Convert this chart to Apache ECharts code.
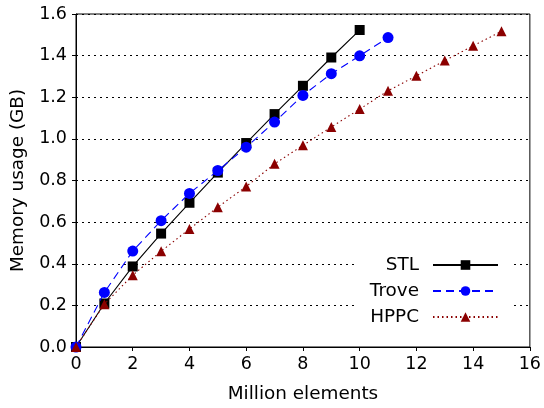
<!DOCTYPE html>
<html>
<head>
<meta charset="utf-8">
<script src="https://cdn.jsdelivr.net/npm/echarts@6/dist/echarts.min.js"></script>
<style>
  html, body { margin: 0; padding: 0; background: #fff; }
  #chart { width: 544px; height: 408px; }
</style>
</head>
<body>
<div id="chart"></div>
<script>
// Memory usage (GB) per container, measured at each million elements inserted
var stlX = [0, 1, 2, 3, 4, 5, 6, 7, 8, 9, 10];
var stlY = [0, 0.209, 0.387, 0.545, 0.693, 0.838, 0.980, 1.119, 1.255, 1.391, 1.523];

var troveX = [0, 1, 2, 3, 4, 5, 6, 7, 8, 9, 10, 11];
var troveY = [0, 0.262, 0.461, 0.607, 0.738, 0.848, 0.960, 1.081, 1.209, 1.313, 1.399, 1.487];

var hppcX = [0, 1, 2, 3, 4, 5, 6, 7, 8, 9, 10, 11, 12, 13, 14, 15];
var hppcY = [0, 0.206, 0.345, 0.460, 0.567, 0.672, 0.771, 0.880, 0.969, 1.057, 1.143, 1.231, 1.303, 1.376, 1.447, 1.517];

var FONT = 'DejaVu Sans';
var TICK_SIZE = 17.5;
var NAME_SIZE = 18.4;

function pairs(xs, ys) {
  return xs.map(function (x, i) { return [x, ys[i]]; });
}

var chart = echarts.init(document.getElementById('chart'), null, { renderer: 'canvas' });

chart.setOption({
  animation: false,
  backgroundColor: '#fff',
  textStyle: { fontFamily: FONT },
  grid: {
    left: 76, right: 12, top: 14, bottom: 60,
    show: true, borderColor: '#000', borderWidth: 1, backgroundColor: 'transparent'
  },
  xAxis: {
    type: 'value',
    min: 0, max: 16, interval: 2,
    name: 'Million elements',
    nameLocation: 'middle',
    nameGap: 38,
    nameTextStyle: { fontFamily: FONT, fontSize: NAME_SIZE, color: '#000' },
    axisLine: { show: true, lineStyle: { color: '#000', width: 1 } },
    axisTick: { show: true, inside: false, length: 4, lineStyle: { color: '#000' } },
    axisLabel: { fontFamily: FONT, fontSize: TICK_SIZE, color: '#000', margin: 8 },
    splitLine: { show: false }
  },
  yAxis: {
    type: 'value',
    min: 0, max: 1.6, interval: 0.2,
    name: 'Memory usage (GB)',
    nameLocation: 'middle',
    nameGap: 49,
    nameRotate: 90,
    nameTextStyle: { fontFamily: FONT, fontSize: NAME_SIZE, color: '#000' },
    axisLine: { show: true, lineStyle: { color: '#000', width: 1 } },
    axisTick: { show: true, inside: false, length: 4, lineStyle: { color: '#000' } },
    axisLabel: {
      fontFamily: FONT, fontSize: TICK_SIZE, color: '#000', margin: 9,
      formatter: function (v) { return v.toFixed(1); }
    },
    splitLine: { show: true, lineStyle: { color: '#000', width: 1, type: [2, 4] } }
  },
  legend: {
    orient: 'vertical',
    align: 'right',
    right: 34,
    top: 252,
    padding: [4, 11, 4, 15],
    backgroundColor: '#fff',
    itemWidth: 65,
    itemHeight: 12,
    itemGap: 8,
    textStyle: { fontFamily: FONT, fontSize: NAME_SIZE, color: '#000', padding: [0, 9, 0, 0] },
    data: ['STL', 'Trove', 'HPPC']
  },
  series: [
    {
      name: 'STL',
      type: 'line',
      data: pairs(stlX, stlY),
      symbol: 'rect',
      symbolSize: 10,
      showAllSymbol: true,
      lineStyle: { color: '#000', width: 1.1, type: 'solid' },
      itemStyle: { color: '#000' },
      z: 2
    },
    {
      name: 'Trove',
      type: 'line',
      data: pairs(troveX, troveY),
      symbol: 'circle',
      symbolSize: 11,
      showAllSymbol: true,
      lineStyle: { color: '#0000ff', width: 1.1, type: [8, 5] },
      itemStyle: { color: '#0000ff' },
      z: 3
    },
    {
      name: 'HPPC',
      type: 'line',
      data: pairs(hppcX, hppcY),
      symbol: 'triangle',
      symbolSize: 10,
      showAllSymbol: true,
      lineStyle: { color: '#8b0000', width: 1.1, type: [1.5, 3] },
      itemStyle: { color: '#8b0000' },
      z: 4
    }
  ]
});
</script>
</body>
</html>
